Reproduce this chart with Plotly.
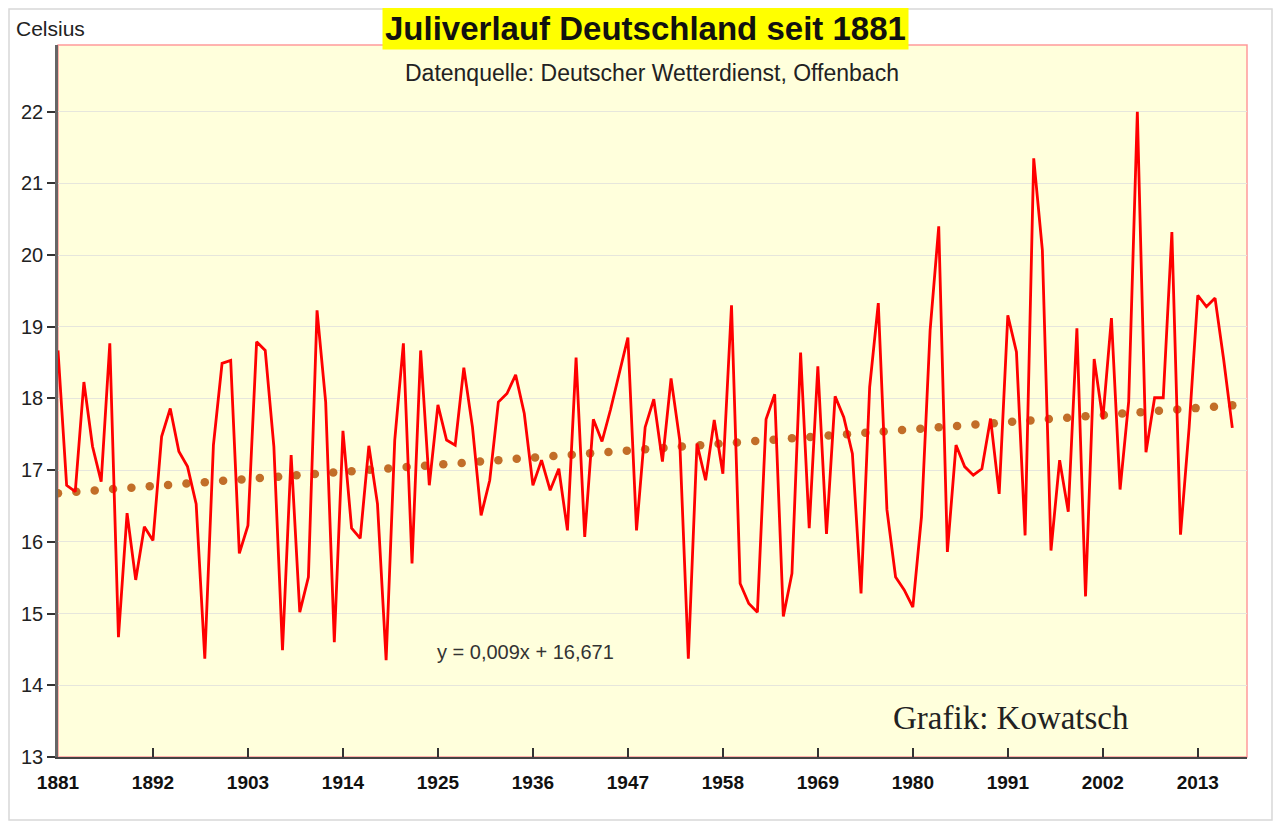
import numpy as np
import plotly.graph_objects as go

years = list(range(1881, 2018))
temps = [
    18.67, 16.79, 16.70, 18.23, 17.33, 16.84, 18.77, 14.67, 16.40, 15.47,
    16.21, 16.02, 17.47, 17.86, 17.26, 17.05, 16.53, 14.37, 17.35, 18.49,
    18.53, 15.84, 16.23, 18.79, 18.67, 17.33, 14.49, 17.21, 15.02, 15.51,
    19.23, 17.95, 14.60, 17.55, 16.19, 16.05, 17.34, 16.53, 14.35, 17.42,
    18.77, 15.70, 18.67, 16.79, 17.91, 17.42, 17.35, 18.43, 17.60, 16.37,
    16.86, 17.95, 18.07, 18.33, 17.79, 16.79, 17.14, 16.72, 17.02, 16.16,
    18.57, 16.07, 17.71, 17.40, 17.85, 18.35, 18.85, 16.16, 17.60, 17.99,
    17.12, 18.28, 17.42, 14.37, 17.37, 16.86, 17.70, 16.95, 19.30, 15.42,
    15.14, 15.02, 17.71, 18.06, 14.96, 15.56, 18.64, 16.19, 18.45, 16.11,
    18.03, 17.74, 17.23, 15.28, 18.16, 19.33, 16.45, 15.51, 15.33, 15.09,
    16.35, 18.95, 20.40, 15.86, 17.35, 17.05, 16.93, 17.02, 17.72, 16.67,
    19.16, 18.65, 16.09, 21.35, 20.07, 15.88, 17.14, 16.42, 18.98, 15.24,
    18.55, 17.71, 19.12, 16.73, 17.96, 22.00, 17.25, 18.01, 18.01, 20.32,
    16.10, 17.60, 19.44, 19.28, 19.40, 18.54, 17.59,
]
trend_slope = 0.009
trend_intercept = 16.671
x_tick_years = list(range(1881, 2014, 11))
y_ticks = list(range(13, 23))

title_text = "Juliverlauf Deutschland seit 1881"
subtitle_text = "Datenquelle: Deutscher Wetterdienst, Offenbach"
unit_text = "Celsius"
equation_text = "y = 0,009x + 16,671"
credit_text = "Grafik: Kowatsch"

# trend line dots (Excel-style round dotted trendline)
n_dots = 65
trend_x = np.linspace(years[0], years[-1], n_dots)
trend_y = trend_slope * (trend_x - years[0] + 1) + trend_intercept

fig = go.Figure()
fig.add_trace(go.Scatter(
    x=trend_x, y=trend_y, mode="markers",
    marker=dict(color="#C26E28", size=8.5, line=dict(width=0)),
    hoverinfo="skip", showlegend=False,
))
fig.add_trace(go.Scatter(
    x=years, y=temps, mode="lines",
    line=dict(color="#FF0000", width=2.8),
    showlegend=False,
))

# page body has an 8px margin; work in screen coordinates
OFF = 8
W, H = 1265, 813
L, R, T, B = 50, 26, 37, 64
pw, ph = W - L - R, H - T - B

def px(xs):
    return (xs - OFF - L) / pw

def py(ys):
    return (H - B - (ys - OFF)) / ph

fig.update_layout(
    width=W, height=H,
    margin=dict(l=L, r=R, t=T, b=B),
    paper_bgcolor="white",
    plot_bgcolor="#FFFFDC",
    font=dict(family="Liberation Sans, Arial, sans-serif", color="#222222"),
    xaxis=dict(
        range=[1881, 2018.7],
        tickmode="array", tickvals=x_tick_years,
        ticktext=[str(v) for v in x_tick_years],
        tickfont=dict(size=19, color="#111111", family="Liberation Sans, Arial, sans-serif", weight="bold"),
        ticks="inside", ticklen=9, tickwidth=1.5, tickcolor="#333333",
        ticklabelstandoff=7,
        showline=True, linecolor="#444444", linewidth=2,
        showgrid=False, zeroline=False, fixedrange=True,
    ),
    yaxis=dict(
        range=[13, 22.93],
        tickmode="array", tickvals=y_ticks,
        tickfont=dict(size=20, color="#222222"),
        ticks="outside", ticklen=8, tickwidth=1.5, tickcolor="#333333",
        showline=True, linecolor="#666666", linewidth=2.5,
        showgrid=True, gridcolor="#E6E6DC", gridwidth=1,
        zeroline=False, fixedrange=True,
    ),
    shapes=[
        dict(type="rect", xref="paper", yref="paper",
             x0=0, x1=1, y0=0, y1=1,
             line=dict(color="#FF9A9A", width=1.5), layer="below"),
        dict(type="rect", xref="paper", yref="paper",
             x0=px(9), x1=px(1272), y0=py(820), y1=py(9),
             line=dict(color="#D8D8D8", width=1.5), layer="below"),
    ],
    annotations=[
        dict(text="<b>" + title_text + "</b>", xref="paper", yref="paper",
             x=px(645), y=py(28), xanchor="center", yanchor="middle",
             showarrow=False, bgcolor="#FFFF00", borderpad=2,
             font=dict(size=33, color="#111111")),
        dict(text=subtitle_text, xref="paper", yref="paper",
             x=px(652), y=py(73), xanchor="center", yanchor="middle",
             showarrow=False,
             font=dict(size=23, color="#222222",
                       family="Liberation Sans Narrow, Arial Narrow, Liberation Sans, sans-serif")),
        dict(text=unit_text, xref="paper", yref="paper",
             x=px(14), y=py(28), xanchor="left", yanchor="middle",
             showarrow=False, font=dict(size=21, color="#222222")),
        dict(text=equation_text, xref="paper", yref="paper",
             x=px(525), y=py(652), xanchor="center", yanchor="middle",
             showarrow=False, font=dict(size=20, color="#333333")),
        dict(text=credit_text, xref="paper", yref="paper",
             x=px(1011), y=py(718), xanchor="center", yanchor="middle",
             showarrow=False,
             font=dict(size=33, color="#222222",
                       family="Liberation Serif, Times New Roman, serif")),
    ],
)

fig.write_html("out.html")
